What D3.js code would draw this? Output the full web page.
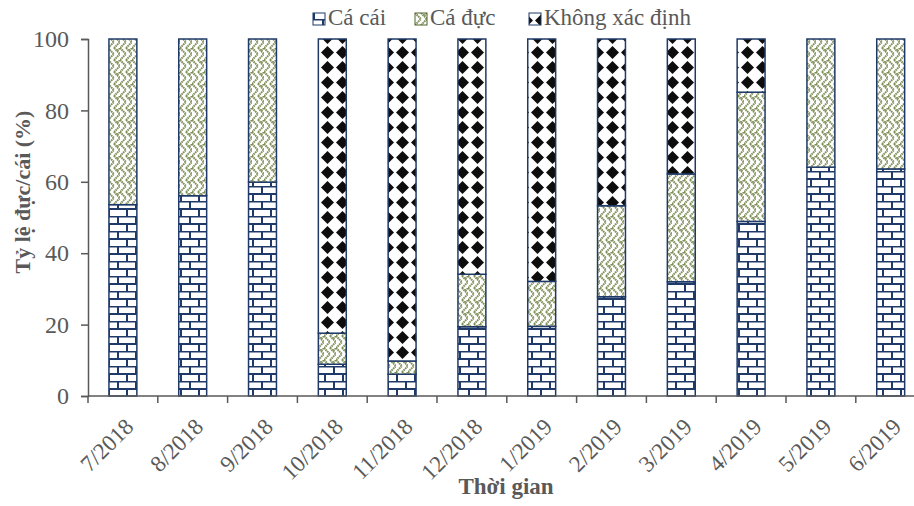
<!DOCTYPE html>
<html>
<head>
<meta charset="utf-8">
<script src="https://cdn.jsdelivr.net/npm/d3@7"></script>
<style>
  body { margin: 0; background: #fff; }
  text { font-family: "Liberation Serif", "Times New Roman", serif; fill: #595959; }
</style>
</head>
<body>
<div id="chart"></div>
<script>
// Data (%)
const months = ['7/2018', '8/2018', '9/2018', '10/2018', '11/2018', '12/2018',
                '1/2019', '2/2019', '3/2019', '4/2019', '5/2019', '6/2019'];
const female = [53.6, 56.1, 59.9, 8.9, 6.1, 19.4, 19.5, 27.8, 32.0, 48.9, 64.1, 63.6];
const male = [46.4, 43.9, 40.1, 8.7, 3.7, 14.7, 12.6, 25.5, 30.2, 36.2, 35.9, 36.4];
const unknown = [0, 0, 0, 82.4, 90.2, 65.9, 67.9, 46.7, 37.8, 14.9, 0, 0];
const seriesNames = ['Cá cái', 'Cá đực', 'Không xác định'];
const yTicks = [0, 20, 40, 60, 80, 100];

const width = 914;
const height = 506;
const navy = '#1f3a68';

const svg = d3.select('#chart')
    .append('svg')
    .attr('width', width)
    .attr('height', height);

// Patterns (brick, weave, diamond)
const defs = svg.append('defs');

const brick = defs.append('pattern')
    .attr('id', 'brick')
    .attr('patternUnits', 'userSpaceOnUse')
    .attr('width', 18).attr('height', 15)
    .attr('x', 0).attr('y', 396);
brick.append('rect').attr('width', 18).attr('height', 15).attr('fill', '#fff');
brick.append('path')
    .attr('d', 'M0,0.5H18M0,8H18M10,0V8M1,8V15')
    .attr('stroke', navy).attr('stroke-width', 2).attr('fill', 'none');

const weave = defs.append('pattern')
    .attr('id', 'weave')
    .attr('patternUnits', 'userSpaceOnUse')
    .attr('width', 12).attr('height', 12);
weave.append('rect').attr('width', 12).attr('height', 12).attr('fill', '#fff');
weave.append('path')
    .attr('d', 'M0,0L6,6L0,12M6,0L12,6L6,12M-3,9L0,12M12,0L9,3')
    .attr('stroke', '#7f8f58').attr('stroke-width', 2)
    .attr('stroke-dasharray', '1.6 0.6').attr('fill', 'none');

const diamond = defs.append('pattern')
    .attr('id', 'diamond')
    .attr('patternUnits', 'userSpaceOnUse')
    .attr('width', 15).attr('height', 15)
    .attr('x', 5).attr('y', 0);
diamond.append('rect').attr('width', 15).attr('height', 15).attr('fill', '#fff');
diamond.append('path')
    .attr('d', 'M7.5,1L14,7.5L7.5,14L1,7.5Z')
    .attr('fill', '#0d0d0d');

const fills = ['url(#brick)', 'url(#weave)', 'url(#diamond)'];

const x = d3.scaleBand()
    .domain(months)
    .range([88, 925.6])
    .paddingInner(0.6)
    .paddingOuter(0.3);

const y = d3.scaleLinear()
    .domain([0, 100])
    .range([396, 39]);

// Stacked data
const table = months.map((m, i) => ({ month: m, f: female[i], m: male[i], u: unknown[i] }));
const stack = d3.stack().keys(['f', 'm', 'u']);
const layers = stack(table);

const layer = svg.selectAll('g.layer')
    .data(layers)
    .enter().append('g')
    .attr('class', 'layer')
    .attr('fill', (d, i) => fills[i]);

layer.selectAll('rect')
    .data(d => d.filter(p => p[1] - p[0] > 0))
    .enter().append('rect')
    .attr('x', d => x(d.data.month))
    .attr('y', d => y(d[1]))
    .attr('width', x.bandwidth())
    .attr('height', d => y(d[0]) - y(d[1]))
    .attr('stroke', navy)
    .attr('stroke-width', 1.5);

// Y axis
const yAxis = svg.append('g')
    .attr('transform', 'translate(88,0)')
    .call(d3.axisLeft(y).tickValues(yTicks).tickSize(7).tickPadding(12));
yAxis.select('.domain').attr('stroke', '#595959').attr('stroke-width', 1.5);
yAxis.selectAll('.tick line').attr('stroke', '#595959').attr('stroke-width', 1.5);
yAxis.selectAll('.tick text')
    .style('font-family', '"Liberation Serif", serif')
    .style('font-size', '24px')
    .attr('fill', '#595959');

// X axis: line with ticks on the category boundaries
const step = x.step();
const boundaries = months.map((m, i) => 88 + i * step);
svg.append('line')
    .attr('x1', 88).attr('x2', 925.6)
    .attr('y1', 396).attr('y2', 396)
    .attr('stroke', '#595959').attr('stroke-width', 1.5);
svg.selectAll('line.xtick')
    .data(boundaries)
    .enter().append('line')
    .attr('class', 'xtick')
    .attr('x1', d => d).attr('x2', d => d)
    .attr('y1', 396).attr('y2', 403)
    .attr('stroke', '#595959').attr('stroke-width', 1.5);

svg.selectAll('text.xlabel')
    .data(months)
    .enter().append('text')
    .attr('class', 'xlabel')
    .attr('text-anchor', 'end')
    .attr('transform', d => `translate(${x(d) + x.bandwidth() / 2 + 12},${428}) rotate(-45)`)
    .style('font-size', '23px')
    .text(d => d);

// Axis titles
svg.append('text')
    .attr('transform', 'translate(30,192) rotate(-90)')
    .attr('text-anchor', 'middle')
    .style('font-size', '22px')
    .style('font-weight', 'bold')
    .text('Tỷ lệ đực/cái (%)');

svg.append('text')
    .attr('x', 506)
    .attr('y', 494)
    .attr('text-anchor', 'middle')
    .style('font-size', '23px')
    .style('font-weight', 'bold')
    .text('Thời gian');

// Legend
const legendX = [313, 415, 529];
const legend = svg.selectAll('g.legend')
    .data(seriesNames)
    .enter().append('g')
    .attr('class', 'legend')
    .attr('transform', (d, i) => `translate(${legendX[i]},13)`);

legend.append('rect')
    .attr('width', 12)
    .attr('height', 12)
    .attr('fill', (d, i) => fills[i])
    .attr('stroke', (d, i) => i === 1 ? '#4f6228' : navy)
    .attr('stroke-width', 1);

legend.append('text')
    .attr('x', 15)
    .attr('y', 12)
    .style('font-size', '23px')
    .text(d => d);
</script>
</body>
</html>
